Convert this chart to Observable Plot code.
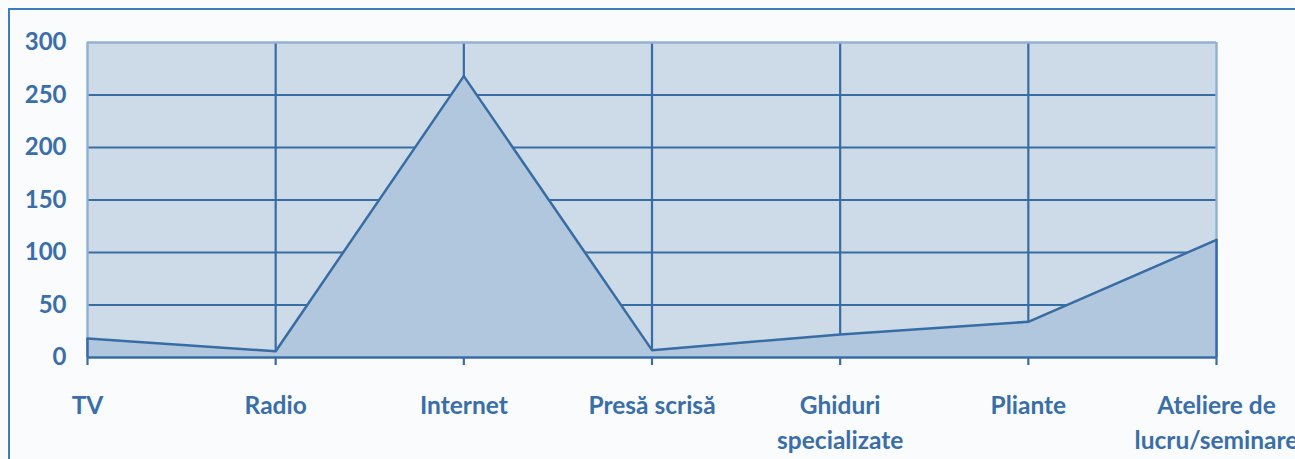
<!DOCTYPE html>
<html>
<head>
<meta charset="utf-8">
<script src="https://cdn.jsdelivr.net/npm/d3@7"></script>
<script src="https://cdn.jsdelivr.net/npm/@observablehq/plot@0.6"></script>
<style>
  html, body { margin: 0; padding: 0; background: #f9fbfd; overflow: hidden; }
  #wrap { position: relative; width: 1295px; height: 459px; }
  #border { position: absolute; left: 8px; top: 8px; width: 1400px; height: 600px; border: 2px solid #3c7cc0; box-sizing: border-box; }
  #chart { position: absolute; left: 0; top: 0; }
</style>
</head>
<body>
<div id="wrap"><div id="border"></div><div id="chart"></div></div>
<script>
const categories = ["TV", "Radio", "Internet", "Presă scrisă", "Ghiduri\nspecializate", "Pliante", "Ateliere de\nlucru/seminare"];
const values = [18, 6, 268, 7, 22, 34, 112];
const yTicks = [0, 50, 100, 150, 200, 250, 300];

const data = categories.map((c, i) => ({i, c, v: values[i]}));
const idx = categories.map((c, i) => i);

const dark = "#386ca4";
const light = "#93b2d2";
const textColor = "#3a6ea8";
const plotBg = "#cddbe9";
const areaFill = "#b1c7dd";
const font = "Lato";

const chart = Plot.plot({
  width: 1295,
  height: 459,
  marginLeft: 87,
  marginRight: 79,
  marginTop: 42,
  marginBottom: 102,
  style: {background: "transparent", fontFamily: font},
  x: {type: "linear", domain: [0, categories.length - 1], axis: null},
  y: {domain: [0, 300], axis: null},
  marks: [
    Plot.rect([0], {x1: 0, x2: categories.length - 1, y1: 0, y2: 300, fill: plotBg}),
    Plot.ruleY(yTicks.filter(t => t > 0 && t < 300), {stroke: dark, strokeWidth: 2.2}),
    Plot.ruleX(idx.slice(1, -1), {y1: 0, y2: 300, stroke: dark, strokeWidth: 2.2}),
    Plot.ruleY([300], {x1: 0, x2: categories.length - 1, stroke: light, strokeWidth: 2.5}),
    Plot.ruleX([0, categories.length - 1], {y1: 0, y2: 300, stroke: light, strokeWidth: 2.5}),
    Plot.areaY(data, {x: "i", y: "v", fill: areaFill}),
    Plot.lineY(data, {x: "i", y: "v", stroke: dark, strokeWidth: 2.5}),
    Plot.ruleX([data[0], data[data.length - 1]], {x: "i", y1: 0, y2: "v", stroke: dark, strokeWidth: 2.5}),
    Plot.ruleY([0], {x1: 0, x2: categories.length - 1, stroke: dark, strokeWidth: 2.5}),
    Plot.ruleX(idx, {x: d => d, y1: 0, y2: 0, insetBottom: -8, stroke: dark, strokeWidth: 2.2}),
    Plot.text(yTicks, {x: 0, y: d => d, text: d => String(d), dx: -21, textAnchor: "end", fontSize: 24, fontWeight: "bold", fill: textColor}),
    Plot.text(idx, {x: d => d, y: 0, text: d => categories[d], dy: 31, lineAnchor: "top", lineHeight: 1.45, fontSize: 24.5, fontWeight: "bold", fill: textColor})
  ]
});
document.getElementById("chart").appendChild(chart);
</script>
</body>
</html>
